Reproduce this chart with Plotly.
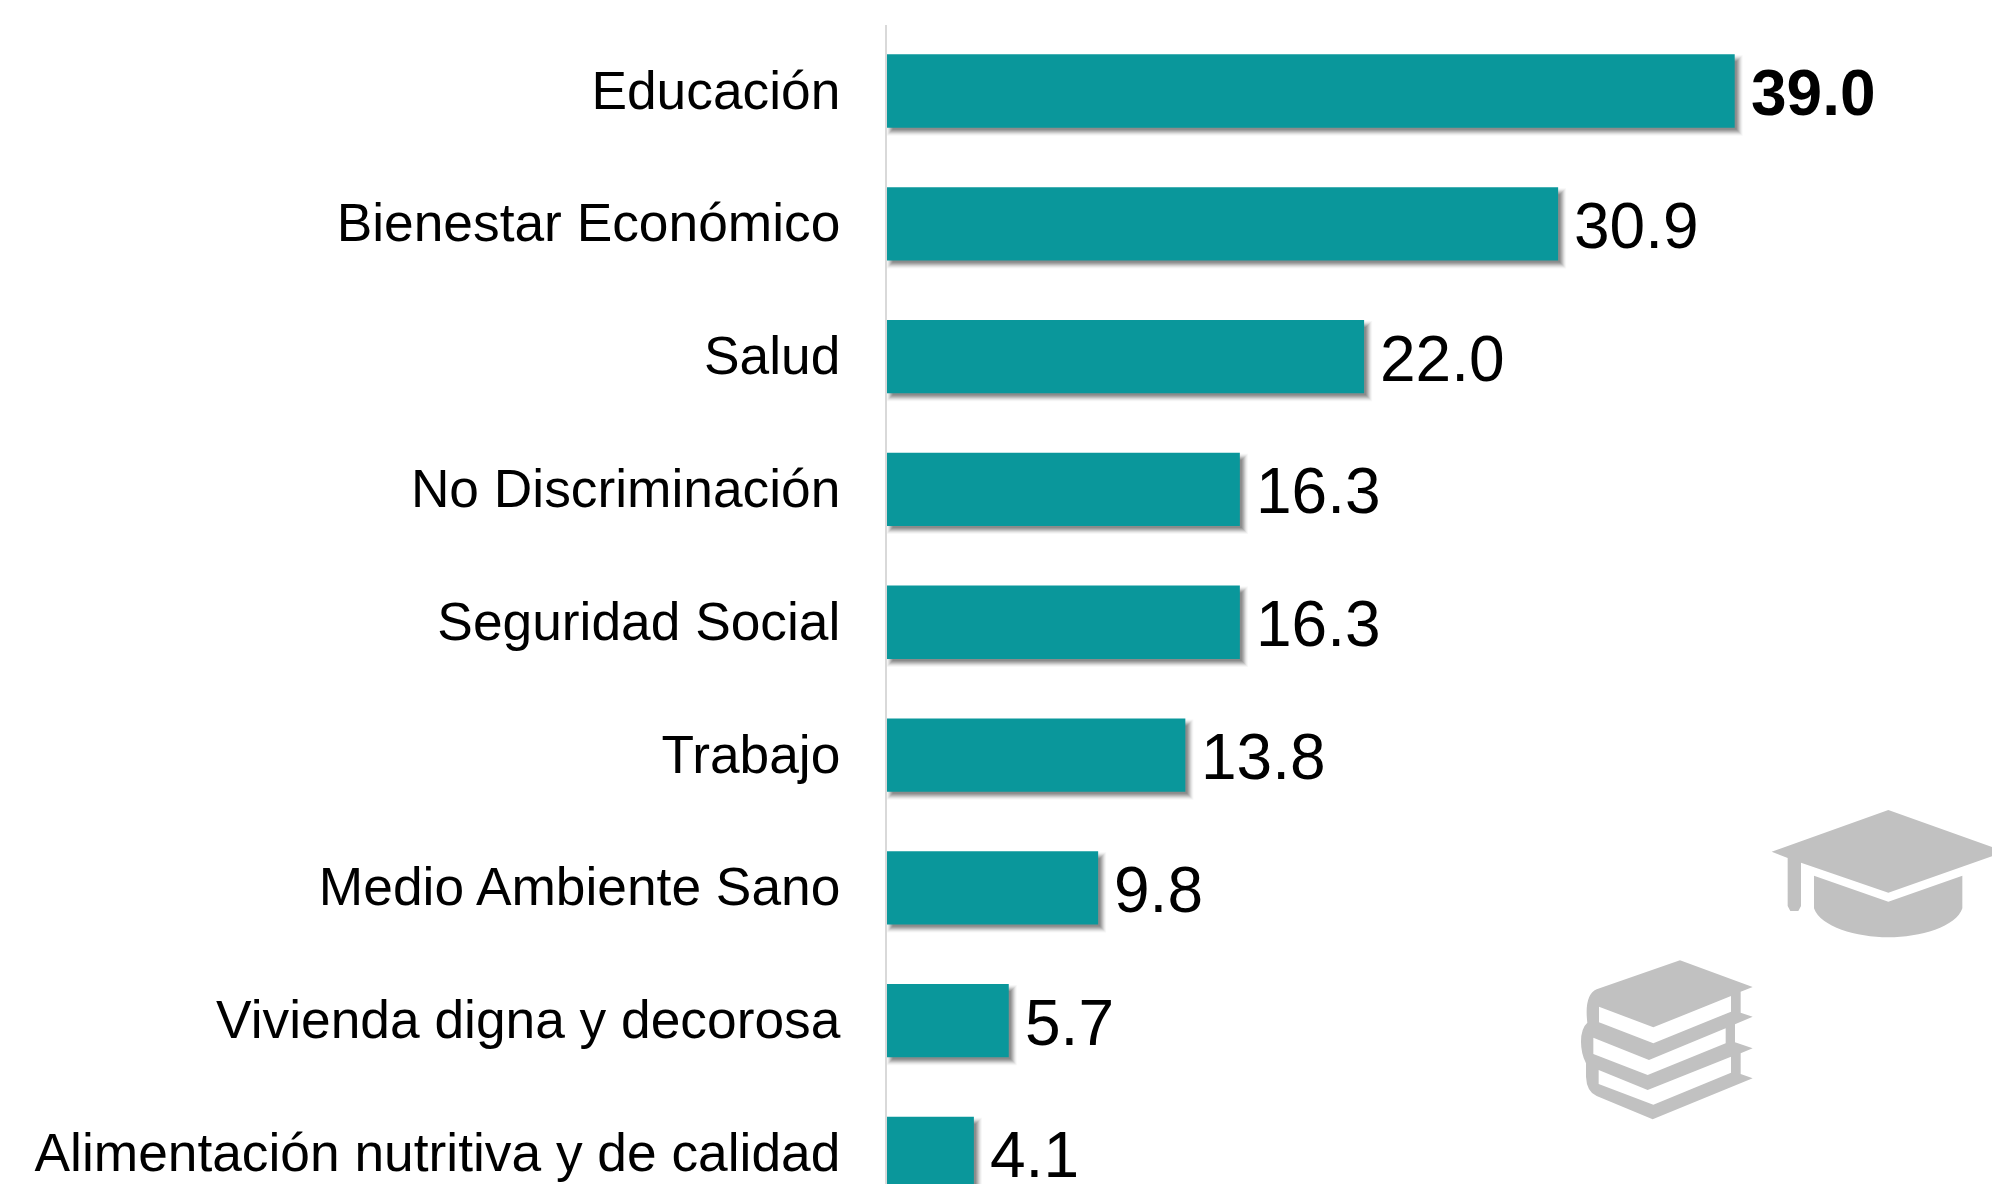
import plotly.graph_objects as go

categories = ["Educación", "Bienestar Económico", "Salud", "No Discriminación", "Seguridad Social",
              "Trabajo", "Medio Ambiente Sano", "Vivienda digna y decorosa", "Alimentación nutritiva y de calidad"]
values = [39.0, 30.9, 22.0, 16.3, 16.3, 13.8, 9.8, 5.7, 4.1]
bar_color = "#0A979B"
W, H = 1992, 1184
PX_PER_UNIT = 21.8
ZERO_PX = 884.5
PLOT_LEFT = 887
PITCH = 132.8
BAR_W = 0.552

fig = go.Figure()
# soft shadow: translucent copies of the bars that only spill to the right and below
for g, alpha in [(6, .04), (5, .06), (4, .09), (3, .12), (2, .14), (1, .15), (0, .15)]:
    fig.add_trace(go.Bar(
        x=[v + (2 + g - (8 - g)) / PX_PER_UNIT for v in values], y=categories, orientation="h",
        base=[(8 - g) / PX_PER_UNIT] * len(values),
        width=BAR_W + (2 * g - 5) / PITCH, offset=-BAR_W / 2 + (7 - g) / PITCH,
        marker=dict(color=f"rgba(50,50,50,{alpha})", line_width=0),
        hoverinfo="skip", showlegend=False))
fig.add_trace(go.Bar(x=values, y=categories, orientation="h", width=BAR_W,
                     marker=dict(color=bar_color, line_width=0), showlegend=False))

for i, (c, v) in enumerate(zip(categories, values)):
    fig.add_annotation(x=v, y=c, xref="x", yref="y", xanchor="left", yanchor="middle",
                       text=f"<b>{v:.1f}</b>" if i == 0 else f"{v:.1f}",
                       showarrow=False, xshift=14, yshift=-2,
                       font=dict(family="Liberation Sans", size=64, color="#000000"))


def zoom_pt(zx, zy):
    return (1500 + zx / 3) / W, 1 - (780 + zy / 3) / H


def path(cmds):
    out = []
    for cmd, pts in cmds:
        out.append(cmd + " ".join("{:.5f},{:.5f}".format(*zoom_pt(*p)) for p in pts))
    return " ".join(out) + " Z"


def poly(pts):
    return path([("M", [pts[0]])] + [("L", [p]) for p in pts[1:]])


grey = "#C1C1C1"
cap = poly([(1165, 90), (1515, 215), (1165, 338), (903, 248), (903, 378), (895, 393), (871, 393),
            (863, 378), (863, 234), (815, 215)])
cap_base = path([("M", [(942, 287)]), ("L", [(1165, 365)]), ("L", [(1387, 287)]), ("L", [(1387, 385)]),
                 ("C", [(1370, 440), (1260, 472), (1165, 472)]),
                 ("C", [(1070, 472), (960, 440), (942, 385)])])
books = path([("M", [(540, 541)]), ("L", [(758, 621)]), ("L", [(722, 635)]), ("L", [(722, 698)]),
              ("L", [(758, 710)]), ("L", [(705, 733)]), ("L", [(705, 787)]), ("L", [(758, 805)]),
              ("L", [(722, 820)]), ("L", [(722, 882)]), ("L", [(758, 895)]), ("L", [(458, 1018)]),
              ("L", [(290, 948)]), ("Q", [(260, 935), (258, 890)]), ("L", [(258, 850)]),
              ("Q", [(243, 820), (243, 785)]), ("Q", [(243, 745), (262, 728)]),
              ("Q", [(252, 645), (290, 628)])])
pages = [
    poly([(297, 680), (460, 742), (693, 648), (693, 695), (460, 790), (297, 727)]),
    poly([(280, 773), (447, 840), (677, 745), (677, 790), (443, 885), (280, 822)]),
    poly([(296, 870), (443, 930), (693, 830), (693, 878), (460, 974), (296, 912)]),
]
shapes = [dict(type="path", xref="paper", yref="paper", path=p, fillcolor=grey, line_width=0, layer="above")
          for p in (cap, cap_base, books)]
shapes += [dict(type="path", xref="paper", yref="paper", path=p, fillcolor="#FFFFFF", line_width=0, layer="above")
           for p in pages]

fig.update_layout(
    width=W, height=H, margin=dict(l=0, r=0, t=0, b=0), autosize=False,
    barmode="overlay", plot_bgcolor="#FFFFFF", paper_bgcolor="#FFFFFF",
    shapes=shapes,
    xaxis=dict(domain=[PLOT_LEFT / W, 1],
               range=[(PLOT_LEFT - ZERO_PX) / PX_PER_UNIT, (W - ZERO_PX) / PX_PER_UNIT],
               visible=False, fixedrange=True),
    yaxis=dict(domain=[0, (H - 24.6) / H], range=[8.23, -0.5], type="category",
               categoryorder="array", categoryarray=categories,
               showline=True, linecolor="#D9D9D9", linewidth=2, showgrid=False, zeroline=False,
               ticks="outside", ticklen=34, tickcolor="rgba(0,0,0,0)", automargin=False,
               ticklabelshift=1,
               tickfont=dict(family="Liberation Sans", size=53.3, color="#000000")),
)
fig.write_html("out.html", post_script="document.body.style.margin='0';", config={"displayModeBar": False})
